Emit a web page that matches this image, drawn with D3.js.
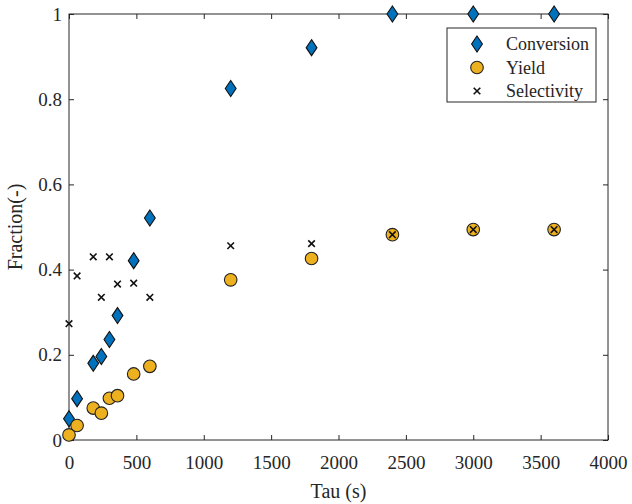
<!DOCTYPE html>
<html>
<head>
<meta charset="utf-8">
<script src="https://cdn.jsdelivr.net/npm/d3@7"></script>
<style>
  body { margin: 0; background: #fff; }
  text { font-family: "Liberation Serif", "Times New Roman", serif; fill: #262626; }
</style>
</head>
<body>
<svg id="chart" width="632" height="504"></svg>
<script>
// values
var tau = [0, 60, 180, 240, 300, 360, 480, 600, 1200, 1800, 2400, 3000, 3600];
var conversion = [0.05, 0.097, 0.18, 0.196, 0.236, 0.292, 0.421, 0.521, 0.825, 0.921, 1.0, 1.0, 1.0];
var yieldVals = [0.012, 0.034, 0.075, 0.063, 0.098, 0.104, 0.155, 0.173, 0.376, 0.426, 0.482, 0.494, 0.494];
var selectivity = [0.273, 0.385, 0.43, 0.335, 0.43, 0.366, 0.368, 0.335, 0.456, 0.461, 0.482, 0.494, 0.494];
var xTicks = [0, 500, 1000, 1500, 2000, 2500, 3000, 3500, 4000];
var yTicks = [0, 0.2, 0.4, 0.6, 0.8, 1];
var seriesNames = ['Conversion', 'Yield', 'Selectivity'];

var svg = d3.select('#chart');
var m = { left: 69, right: 608, top: 14, bottom: 440 };

var x = d3.scaleLinear().domain([0, 4000]).range([m.left, m.right]);
var y = d3.scaleLinear().domain([0, 1]).range([m.bottom, m.top]);

var axisColor = '#262626';
var serif = '"Liberation Serif", "Times New Roman", serif';
var tickLen = 5;

function styleAxis(g) {
    g.attr('font-family', serif).attr('font-size', 19);
    g.select('.domain').remove();
    g.selectAll('.tick line').attr('stroke', axisColor);
    g.selectAll('.tick text').attr('fill', axisColor);
}

// bottom / top / left / right, MATLAB style ticks pointing inward
svg.append('g').attr('transform', 'translate(0,' + m.bottom + ')')
    .call(d3.axisBottom(x).tickValues(xTicks).tickSize(-tickLen).tickPadding(16).tickFormat(d3.format('d')))
    .call(styleAxis);
svg.append('g').attr('transform', 'translate(0,' + m.top + ')')
    .call(d3.axisTop(x).tickValues(xTicks).tickSize(-tickLen).tickFormat(''))
    .call(styleAxis);
svg.append('g').attr('transform', 'translate(' + m.left + ',0)')
    .call(d3.axisLeft(y).tickValues(yTicks).tickSize(-tickLen).tickPadding(7).tickFormat(function (d) { return d3.format('~g')(d); }))
    .call(styleAxis);
svg.append('g').attr('transform', 'translate(' + m.right + ',0)')
    .call(d3.axisRight(y).tickValues(yTicks).tickSize(-tickLen).tickFormat(''))
    .call(styleAxis);

svg.append('rect')
    .attr('x', m.left).attr('y', m.top)
    .attr('width', m.right - m.left).attr('height', m.bottom - m.top)
    .attr('fill', 'none').attr('stroke', axisColor).attr('stroke-width', 1);

svg.append('text')
    .attr('x', (m.left + m.right) / 2).attr('y', 498)
    .attr('text-anchor', 'middle').style('font-size', '20px')
    .text('Tau (s)');
svg.append('text')
    .attr('transform', 'translate(22,' + ((m.top + m.bottom) / 2) + ') rotate(-90)')
    .attr('text-anchor', 'middle').style('font-size', '20px')
    .text('Fraction(-)');

var diamond = 'M0,-8L5.4,0L0,8L-5.4,0Z';
var cross = 'M-3.3,-3.3L3.3,3.3M-3.3,3.3L3.3,-3.3';

function drawDiamond(g) {
    g.append('path').attr('d', diamond).attr('fill', '#0072BD').attr('stroke', '#111').attr('stroke-width', 1.1);
}
function drawCircle(g) {
    g.append('circle').attr('r', 6.3).attr('fill', '#EDB120').attr('stroke', '#222').attr('stroke-width', 1.1);
}
function drawCross(g) {
    g.append('path').attr('d', cross).attr('fill', 'none').attr('stroke', '#111').attr('stroke-width', 1.6);
}

var plot = svg.append('g');

plot.selectAll('.conv').data(tau).enter().append('g')
    .attr('class', 'conv')
    .attr('transform', function (d, i) { return 'translate(' + x(d) + ',' + y(conversion[i]) + ')'; })
    .each(function () { drawDiamond(d3.select(this)); });

plot.selectAll('.yld').data(tau).enter().append('g')
    .attr('class', 'yld')
    .attr('transform', function (d, i) { return 'translate(' + x(d) + ',' + y(yieldVals[i]) + ')'; })
    .each(function () { drawCircle(d3.select(this)); });

plot.selectAll('.sel').data(tau).enter().append('g')
    .attr('class', 'sel')
    .attr('transform', function (d, i) { return 'translate(' + x(d) + ',' + y(selectivity[i]) + ')'; })
    .each(function () { drawCross(d3.select(this)); });

// legend
var legend = svg.append('g').attr('transform', 'translate(447,28)');
legend.append('rect')
    .attr('width', 149).attr('height', 74)
    .attr('fill', '#fff').attr('stroke', axisColor).attr('stroke-width', 1);
var drawers = [drawDiamond, drawCircle, drawCross];
seriesNames.forEach(function (name, i) {
    var row = legend.append('g').attr('transform', 'translate(30,' + (16 + i * 23.5) + ')');
    drawers[i](row);
    row.append('text').attr('x', 29).attr('y', 6).style('font-size', '18px').text(name);
});
</script>
</body>
</html>
